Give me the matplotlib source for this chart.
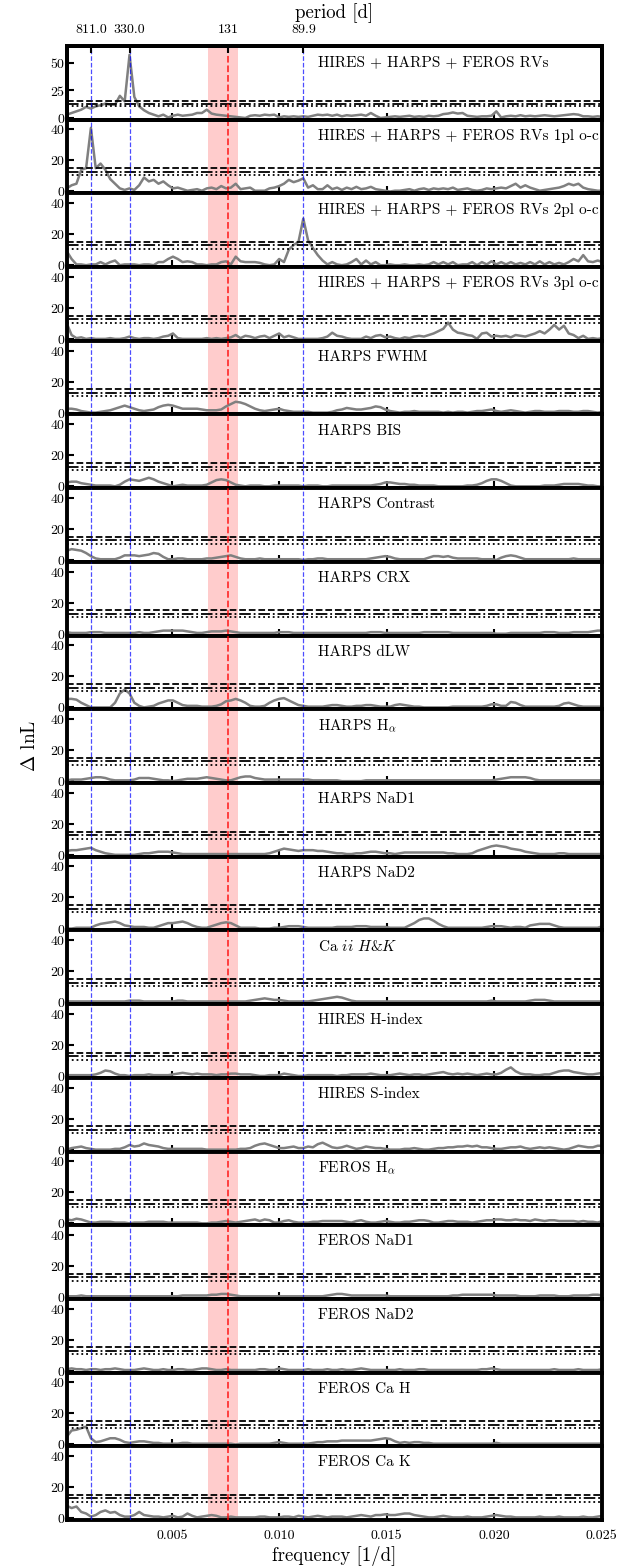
import numpy as np
import matplotlib
matplotlib.use("Agg")
import matplotlib.pyplot as plt

plt.rcParams["font.family"] = "serif"
plt.rcParams["font.serif"] = ["cmr10"]
plt.rcParams["mathtext.fontset"] = "cm"
plt.rcParams["axes.formatter.use_mathtext"] = True
plt.rcParams["axes.unicode_minus"] = False

# frequency grid of the periodograms [1/d]
freq = 0.00011 + 0.0002246 * np.arange(112)

names = ["HIRES + HARPS + FEROS RVs",
         "HIRES + HARPS + FEROS RVs 1pl o-c",
         "HIRES + HARPS + FEROS RVs 2pl o-c",
         "HIRES + HARPS + FEROS RVs 3pl o-c",
         "HARPS FWHM", "HARPS BIS", "HARPS Contrast", "HARPS CRX", "HARPS dLW",
         r"HARPS H$_\alpha$", "HARPS NaD1", "HARPS NaD2", r"Ca $ii$ $H$&$K$",
         "HIRES H-index", "HIRES S-index", r"FEROS H$_\alpha$",
         "FEROS NaD1", "FEROS NaD2", "FEROS Ca H", "FEROS Ca K"]

rv_all = [3, 4.5, 6, 7.5, 10, 8.5, 10.5, 11.5, 13, 12, 12, 20, 15, 57, 19, 10.5,
          7, 4.5, 3, 1.5, 3, 0.5, 2, 3, 2, 2.5, 3, 4.5, 4.5, 7.5, 4, 3,
          2.5, 2, 1.5, 1, 0.5, 0, 2, 2.5, 2, 3, 2.5, 3, 0.5, 1.5, 1, 1.5,
          1, 1.5, 1, 2, 3, 2.5, 3, 2, 3, 1.5, 2.5, 2, 2.5, 3, 2, 4.5,
          2, 0, 0.5, 1, 1.5, 1, 1.5, 2, 1, 1.5, 1, 2, 1.5, 2, 3.5, 4,
          5, 4, 4.5, 2, 1.5, 1, 1.5, 1.5, 2, 6, 0.5, 1.5, 2, 1.5, 2.5, 1.5,
          2, 1.5, 2, 2.5, 2, 1.5, 2, 2.5, 3, 3.5, 3, 1.5, 1.5, 1, 1.5, 1]
rv_1pl = [2, 4, 5, 14, 15, 41, 15, 18, 14, 8, 5, 2, 1, 2, 1, 4,
          9, 6.5, 7.5, 5, 6.5, 4, 2, 2.5, 1.5, 0.5, 1, 1.5, 0.5, 2, 2.5, 1.5,
          3.5, 2, 2.5, 5, 1.5, 2, 2.5, 0.5, 0.5, 0.5, 2, 2.5, 3.5, 5, 7.5, 6,
          7, 8.5, 2.5, 4, 1.5, 1.5, 4, 1.5, 2.5, 1, 2.5, 1.5, 3, 1.5, 2, 3,
          1.5, 1, 0.5, 0, 0.5, 0.5, 1, 1.5, 0.5, 1.5, 2, 1, 2, 1.5, 2, 1.5,
          2.5, 1, 1.5, 2, 1, 0.5, 1, 2, 1.5, 2, 2.5, 2, 3.5, 5, 2.5, 4,
          2.5, 1.5, 0.5, 1, 1.5, 2, 2.5, 3.5, 5, 4, 5, 2.5, 1.5, 1, 0.5, 0.5]
rv_2pl = [9, 4, 0.5, 0.5, 0, 0.5, 0.5, 2, 0.5, 2, 3, 0, 0.5, 0.5, 0.5, 0,
          0.5, 0.5, 0, 2, 2, 4, 5.5, 4, 2, 2.5, 2, 0.5, 0.5, 0, 0.5, 0.5,
          2, 2.5, 0.5, 5.5, 2.5, 2, 2, 2, 1.5, 0.5, 0, 0.5, 4, 2, 10, 13,
          15, 30, 16, 11, 6.5, 3, 0.5, 2, 0.5, 0, 0.5, 2, 4, 0.5, 3, 0.5,
          2, 0, 0, 0.5, 0, 0, 0.5, 0, 0, 0.5, 0, 0.5, 2, 0.5, 2, 0.5,
          2, 0, 0.5, 0.5, 2, 0, 2, 0.5, 2.5, 0.5, 2, 0.5, 2, 0.5, 1.5, 0.5,
          2, 0.5, 2.5, 0.5, 2, 0.5, 1.5, 0.5, 2, 4, 2.5, 6.5, 2.5, 2, 3, 2]
rv_3pl = [10, 2.5, 0.5, 1, 0, 0.5, 0, 0, 0, 0.5, 0, 0, 0.5, 1.5, 0.5, 0,
          0.5, 0.5, 0, 0.5, 1.5, 2, 3.5, 0.5, 0, 0, 0, 0, 0, 0.5, 0, 0.5,
          0, 0.5, 1, 2.5, 0.5, 2, 1.5, 0.5, 1.5, 2, 0.5, 2, 3.5, 1, 2, 1,
          0, 0, 0, 0, 0, 0.5, 1.5, 4, 2, 1.5, 0.5, 0, 0, 0, 1.5, 0.5,
          2, 2.5, 1, 1.5, 0.5, 0, 1, 0.5, 1.5, 2, 1.5, 2.5, 3.5, 5, 6.5, 10.5,
          6, 4, 3.5, 2.5, 2, 0, 3.5, 4, 1.5, 2, 1.5, 2, 1, 2.5, 2, 1.5,
          2.5, 3.5, 5, 3.5, 6, 9, 6, 8.5, 3.5, 2.5, 0.5, 2, 0, 0.5, 0, 0.5]
harps_fwhm = [2.5, 2.5, 2, 1, 0.5, 0, 0, 0.5, 1, 1.5, 2.5, 3.5, 4.5, 3.5, 2.5, 1.5,
              1, 1.5, 2, 3.5, 4.5, 5, 4.5, 3.5, 2.5, 2.5, 2.5, 2.5, 2, 1.5, 1.5, 1.5,
              2, 4, 5.5, 7, 6.5, 5.5, 4, 2.5, 1.5, 1, 1.5, 2, 2.5, 1.5, 1, 0.5,
              0.5, 0.5, 0.5, 0, 0, 0, 0, 0.5, 1.5, 2, 3, 2.5, 2, 2, 2.5, 3,
              4, 3.5, 2, 1, 0.5, 0, 0.5, 0.5, 1, 0.5, 0.5, 0.5, 0.5, 0.5, 0, 0.5,
              0, 0.5, 0.5, 0, 0.5, 1, 1, 1.5, 2, 1, 0.5, 1, 1.5, 1, 0.5, 0,
              0.5, 1, 1, 0.5, 0.5, 0.5, 1, 1, 1, 0.5, 0.5, 1, 1, 0.5, 0, 0.5]
harps_bis = [2.5, 3, 3, 2, 1.5, 1, 0.5, 0.5, 0.5, 0.5, 0, 1, 3, 4.5, 4, 3.5,
             4.5, 5.5, 4.5, 3, 2, 1, 0, 0.5, 1, 0.5, 0.5, 0.5, 0.5, 1, 2.5, 4,
             4.5, 4, 2.5, 1, 0.5, 0, 0.5, 0.5, 0.5, 0, 0, 0.5, 0.5, 0.5, 0.5, 0.5,
             0.5, 0, 0.5, 0.5, 0.5, 0, 0, 0.5, 0.5, 0.5, 0.5, 0.5, 0.5, 0.5, 0.5, 0.5,
             1, 1.5, 2.5, 2.5, 2, 1.5, 1.5, 1, 1, 0.5, 0.5, 0.5, 0.5, 0, 0, 0,
             0, 0, 0, 0.5, 0.5, 1, 2, 3.5, 4.5, 4.5, 3.5, 2, 0.5, 0, 0, 0,
             0, 0, 0, 0.5, 0.5, 0.5, 1, 1.5, 1.5, 1.5, 1.5, 1, 0.5, 0.5, 0, 0]
harps_contrast = [6, 7, 6.5, 6, 4.5, 2.5, 1, 0.5, 0.5, 0.5, 0.5, 1.5, 3, 3, 3, 2.5,
                  3, 3.5, 4.5, 4, 2, 0.5, 0.5, 1, 1, 0.5, 0.5, 0.5, 0.5, 1, 1, 1.5,
                  2, 2.5, 3, 2, 1, 0.5, 0.5, 0.5, 1, 0.5, 0.5, 0.5, 0.5, 0.5, 0.5, 0.5,
                  0.5, 0, 0.5, 0.5, 1, 1, 0.5, 0.5, 0.5, 0.5, 0.5, 0.5, 0.5, 0.5, 0.5, 1,
                  1.5, 2, 2.5, 2, 1, 0.5, 0.5, 0.5, 0.5, 0.5, 0.5, 1.5, 2.5, 2.5, 2, 2.5,
                  1.5, 1, 1, 1, 1, 1, 0.5, 0.5, 0.5, 0, 1.5, 2.5, 3, 2.5, 1.5, 0.5,
                  0.5, 0.5, 0.5, 0.5, 0.5, 0.5, 0.5, 0.5, 0.5, 1, 0.5, 0.5, 0.5, 0.5, 0.5, 0.5]
harps_crx = [1, 0.5, 0.5, 0.5, 0.5, 1, 1, 1, 0.5, 0.5, 0.5, 0.5, 0.5, 0.5, 0.5, 1,
             0.5, 0.5, 1, 1.5, 2, 2, 2, 2, 2, 1.5, 1, 0.5, 0.5, 1, 1.5, 1.5,
             1.5, 2, 1.5, 1, 0.5, 0.5, 0.5, 0.5, 0.5, 0.5, 0.5, 0.5, 1, 1, 1, 0.5,
             0.5, 0.5, 0.5, 0.5, 0.5, 0.5, 0.5, 0.5, 0.5, 0.5, 0.5, 0.5, 0.5, 0.5, 0.5, 1,
             1, 1, 0.5, 0.5, 0.5, 0.5, 0.5, 0.5, 0.5, 0.5, 1, 1, 1, 1, 1, 1,
             0.5, 0.5, 0.5, 0.5, 0.5, 0.5, 0.5, 0.5, 0.5, 0, 0, 0, 0.5, 0.5, 0.5, 0.5,
             0.5, 0.5, 0.5, 1, 1, 1, 0.5, 0.5, 0.5, 1, 1, 1, 1, 1.5, 2, 2]
harps_dlw = [5.5, 5.5, 5, 3, 1.5, 0, 0, 0, 0, 0, 3, 9, 11.5, 9, 3, 1,
             0, 0.5, 1, 2.5, 3.5, 4.5, 4.5, 3, 1.5, 1, 1, 1, 0.5, 0.5, 0.5, 1,
             2, 4, 4.5, 5.5, 4.5, 3, 1, 0.5, 0.5, 1, 3, 4.5, 5.5, 6, 4.5, 3,
             1.5, 1, 0.5, 0.5, 0.5, 0.5, 1, 1.5, 1.5, 1, 0.5, 0.5, 1, 1, 1.5, 1.5,
             1, 0.5, 0.5, 0.5, 1.5, 2, 1.5, 1, 0.5, 0.5, 0, 0, 0, 0, 0, 0,
             0.5, 0.5, 0.5, 0.5, 0.5, 0.5, 0.5, 1, 2, 2, 1, 1, 3.5, 3, 1.5, 0.5,
             0.5, 0.5, 0.5, 0.5, 0.5, 0.5, 1, 2.5, 3, 2, 1, 0.5, 0.5, 0.5, 0.5, 0.5]
harps_halpha = [0.5, 1, 1, 1, 1.5, 2, 2.5, 2.5, 2, 1, 0.5, 0.5, 0.5, 0.5, 1, 2,
                2, 2, 1.5, 1, 0.5, 0.5, 0, 0.5, 1, 1.5, 1.5, 1.5, 2, 2.5, 2, 1.5,
                1, 0.5, 0.5, 1.5, 2.5, 3, 3, 2, 1.5, 1, 1, 1, 1, 1, 1, 1,
                1, 1, 1, 0.5, 0.5, 0.5, 0.5, 0.5, 0.5, 0, 0, 0, 0, 0, 0.5, 0.5,
                0.5, 0.5, 0.5, 0.5, 0.5, 0.5, 0.5, 0.5, 0.5, 0.5, 0.5, 0.5, 0.5, 0.5, 0.5, 0.5,
                0.5, 0.5, 0.5, 0.5, 0.5, 0.5, 0.5, 0.5, 0.5, 1, 1.5, 2, 2.5, 2.5, 2.5, 2.5,
                2, 1, 0.5, 0.5, 0.5, 0.5, 0.5, 0.5, 0.5, 0.5, 0.5, 0.5, 0.5, 0.5, 0.5, 0.5]
harps_nad1 = [2.5, 3, 3, 3.5, 4, 4.5, 3, 2, 1, 0.5, 0, 0, 0, 0, 0, 0.5,
              1, 1, 1.5, 2, 2, 2, 1.5, 1, 0.5, 0.5, 0.5, 0.5, 0.5, 0.5, 0.5, 0.5,
              0.5, 0.5, 0.5, 0.5, 0.5, 0.5, 0.5, 0.5, 0.5, 0.5, 1, 2, 3, 4, 3.5, 3,
              2.5, 3, 3, 3, 2.5, 2.5, 2, 1.5, 1, 1, 0.5, 0.5, 1, 1, 1.5, 2,
              2, 1.5, 1, 1, 0.5, 1, 1.5, 1.5, 1.5, 1.5, 1.5, 1.5, 1.5, 1.5, 1.5, 1,
              1, 0.5, 0.5, 0.5, 1, 2.5, 3.5, 4.5, 5.5, 6, 5.5, 5, 4, 3.5, 3, 2,
              1.5, 1, 0.5, 0.5, 0.5, 0.5, 1, 1, 0.5, 0.5, 0.5, 0.5, 0.5, 0.5, 0.5, 0.5]
harps_nad2 = [0, 0, 0.5, 0.5, 0.5, 0.5, 2, 3, 3.5, 4, 4.5, 3.5, 2, 1.5, 1, 1,
              1, 0.5, 0.5, 1.5, 2.5, 3.5, 3.5, 4, 4.5, 3.5, 2, 1, 0.5, 0.5, 1.5, 2.5,
              3.5, 4, 3.5, 2, 0.5, 0.5, 0.5, 0.5, 0, 0, 0, 0.5, 0.5, 1, 1.5, 1.5,
              1.5, 1, 0.5, 0.5, 0.5, 0.5, 0.5, 0.5, 1, 1, 1, 1, 1.5, 1.5, 1.5, 1,
              1, 1, 1, 0.5, 0.5, 0.5, 0.5, 2, 3.5, 5.5, 6.5, 6.5, 5, 3, 1.5, 0.5,
              0.5, 0.5, 0.5, 0.5, 0.5, 0.5, 0.5, 1, 1.5, 1.5, 1.5, 1, 0.5, 1, 1, 0.5,
              2, 2.5, 3, 3, 3, 2, 1, 0.5, 0.5, 0.5, 0.5, 0.5, 0.5, 0.5, 0.5, 1.5]
ca_hk = [0.5, 0.5, 0.5, 0.5, 0.5, 0.5, 0.5, 0.5, 0.5, 0.5, 0.5, 0.5, 0.5, 1, 1, 1,
         0.5, 0.5, 0.5, 0.5, 0.5, 0.5, 0.5, 1, 1, 0.5, 0.5, 0.5, 0.5, 0.5, 0.5, 0.5,
         0.5, 0.5, 0.5, 0.5, 0.5, 0.5, 1, 1.5, 2, 2.5, 2, 1.5, 1.5, 1, 0.5, 0.5,
         0.5, 0.5, 0.5, 1, 1.5, 2, 2.5, 3, 3.5, 3, 2, 1, 0.5, 0.5, 0.5, 0.5,
         0.5, 0.5, 0.5, 0.5, 0.5, 0.5, 0.5, 0.5, 0.5, 0.5, 0.5, 0.5, 0.5, 0.5, 0.5, 0.5,
         0.5, 0.5, 0.5, 0.5, 0.5, 0.5, 0.5, 0.5, 1, 0.5, 0.5, 0.5, 0.5, 0.5, 0.5, 0.5,
         1, 1.5, 1.5, 1.5, 1, 0.5, 0.5, 0.5, 0.5, 0.5, 0.5, 0.5, 0.5, 0.5, 0.5, 0.5]
hires_h = [0.5, 0.5, 0.5, 0.5, 0.5, 0.5, 1, 2, 3.5, 3, 1.5, 0.5, 0.5, 0, 0.5, 0.5,
           0.5, 1, 0.5, 0.5, 0.5, 0.5, 1, 1.5, 2, 1.5, 1, 1.5, 1, 1, 1, 0.5,
           1, 1, 1.5, 1.5, 1, 1, 1, 0.5, 0, 0, 0.5, 0.5, 0.5, 1.5, 1, 0.5,
           0, 0, 0.5, 0.5, 0.5, 0.5, 0.5, 0.5, 0, 0.5, 0.5, 1, 1, 1, 1, 1.5,
           1, 0.5, 0.5, 0.5, 1, 1.5, 1, 0.5, 1, 1, 0.5, 1, 1.5, 2, 2.5, 1.5,
           1, 1.5, 1, 1.5, 1, 0.5, 1, 1.5, 1, 1, 2, 4, 5.5, 3, 1.5, 1,
           1, 0.5, 0.5, 1, 1, 2, 3, 3.5, 3.5, 2.5, 2, 1.5, 1, 1, 1.5, 2]
hires_s = [0, 1, 1.5, 2, 1, 0.5, 0, 0, 0, 0, 0.5, 0.5, 1.5, 3, 2, 2.5,
           4, 3, 2.5, 2, 1, 0.5, 0.5, 0.5, 0.5, 0.5, 0.5, 0.5, 0.5, 0, 0, 0,
           0, 0, 0, 0, 0.5, 0.5, 1, 2.5, 3.5, 4, 3, 2, 1, 1, 1.5, 2,
           1, 1, 2, 1.5, 3.5, 4.5, 3, 1.5, 1, 1.5, 2.5, 1.5, 0.5, 1, 2, 1.5,
           1, 1, 0.5, 0, 0, 0, 0.5, 0.5, 1, 0.5, 0, 0, 0.5, 1, 1, 1.5,
           1.5, 2, 2, 2.5, 2, 2.5, 1.5, 1.5, 1, 0.5, 0.5, 1, 1.5, 1.5, 2, 1,
           0.5, 1, 1.5, 1, 1.5, 1, 0.5, 0, 0.5, 1.5, 2.5, 2, 1.5, 1.5, 2.5, 2.5]
feros_halpha = [2.5, 2, 3, 2.5, 1.5, 0.5, 0.5, 1, 1, 1, 0.5, 0.5, 0.5, 0, 0.5, 0.5,
                0.5, 1, 1, 1, 1, 0.5, 0.5, 0.5, 0.5, 0.5, 0.5, 0.5, 0, 0, 0.5, 0.5,
                1, 1.5, 1, 0.5, 1, 1.5, 2, 2.5, 1.5, 2.5, 2, 0.5, 0.5, 1.5, 2, 1,
                0.5, 0.5, 0.5, 1, 1, 1.5, 1.5, 1.5, 1.5, 1.5, 1, 0.5, 1.5, 2, 1, 0.5,
                0.5, 1, 1.5, 1, 0.5, 0.5, 1, 1, 1.5, 2, 2, 1.5, 0.5, 0.5, 1, 1.5,
                1.5, 1, 1, 1, 0.5, 1, 1.5, 2, 2, 2.5, 2.5, 2, 2, 2.5, 2, 2,
                1.5, 2.5, 2, 1.5, 2, 2, 1.5, 1.5, 1.5, 1.5, 1, 1.5, 1, 1, 0.5, 1.5]
feros_nad1 = [0.5, 0.5, 0.5, 1, 0.5, 0.5, 0.5, 0.5, 0.5, 0.5, 0.5, 0.5, 0.5, 0.5, 0.5, 0.5,
              0.5, 0.5, 0.5, 0.5, 0.5, 0.5, 0.5, 0.5, 1, 1, 1, 1, 1, 1, 1.5, 1.5,
              2, 2, 1.5, 1, 0.5, 0.5, 0.5, 0.5, 0.5, 0.5, 0.5, 0.5, 0.5, 0.5, 0.5, 0.5,
              0.5, 0.5, 0.5, 0.5, 0.5, 0.5, 1, 1.5, 2, 2, 1.5, 1, 1, 1, 1, 1,
              1, 1, 1, 0.5, 0.5, 0.5, 0.5, 0.5, 0.5, 0.5, 0.5, 0.5, 0.5, 0.5, 0.5, 0.5,
              1, 1, 1.5, 1.5, 1.5, 1.5, 1.5, 1.5, 1.5, 1, 1, 1, 1, 1, 0.5, 0.5,
              0.5, 0.5, 1, 1, 1, 1, 0.5, 0.5, 0.5, 1, 1, 1, 1, 1.5, 1.5, 1]
feros_nad2 = [1, 1.5, 1, 1, 0.5, 1, 1, 0.5, 1, 1, 1.5, 1, 0.5, 0.5, 0.5, 1,
              1.5, 1, 0.5, 0.5, 1, 0.5, 0.5, 1, 1, 0.5, 0.5, 1, 1.5, 1.5, 1, 0.5,
              0.5, 1, 0.5, 0.5, 0.5, 0.5, 0.5, 0.5, 1, 1, 0.5, 0.5, 1.5, 1, 0.5, 0.5,
              0.5, 0.5, 1, 0.5, 0.5, 0.5, 1, 0.5, 0.5, 1, 0.5, 0.5, 1, 1.5, 1, 0.5,
              0.5, 0.5, 0.5, 0.5, 0.5, 1, 0.5, 0.5, 0.5, 1, 1, 0.5, 0.5, 0.5, 0.5, 0.5,
              0.5, 0.5, 0.5, 0.5, 0.5, 0.5, 1, 1, 1.5, 1, 0.5, 0.5, 0.5, 0.5, 0.5, 0.5,
              0.5, 0.5, 0.5, 0.5, 0.5, 1, 0.5, 0.5, 0.5, 0.5, 1, 0.5, 0.5, 0.5, 0.5, 1]
feros_cah = [5, 9, 9.5, 10.5, 11.5, 4, 1.5, 2, 3, 4, 4, 3, 1.5, 1, 1.5, 2,
             2, 1.5, 1, 1, 0.5, 0.5, 0.5, 0.5, 1, 1, 0.5, 0.5, 0.5, 0.5, 0.5, 0.5,
             0.5, 0.5, 0.5, 0, 0.5, 0.5, 0.5, 0.5, 0.5, 0.5, 0.5, 1, 1.5, 1, 0.5, 0.5,
             0.5, 0.5, 0.5, 1, 1.5, 1.5, 2, 2, 2, 2.5, 2.5, 2.5, 2.5, 2.5, 2.5, 2.5,
             3, 3.5, 4, 3.5, 2, 1, 1.5, 1, 1.5, 1.5, 1, 1, 0.5, 0.5, 0.5, 0.5,
             0.5, 0.5, 0.5, 0.5, 0.5, 0.5, 0.5, 0.5, 0.5, 1, 0.5, 0.5, 0.5, 0.5, 0.5, 0.5,
             0.5, 0.5, 0.5, 0.5, 0.5, 0.5, 0.5, 0.5, 0.5, 0.5, 0.5, 0.5, 0.5, 0.5, 0.5, 0.5]
feros_cak = [8, 6.5, 7.5, 4, 3, 1, 2, 4, 5, 3.5, 4, 2, 1, 1, 2, 4,
             2, 1.5, 1, 1, 0.5, 1, 1.5, 0.5, 1, 3, 1.5, 0.5, 1, 1.5, 2, 1.5,
             0.5, 0.5, 1, 0.5, 0.5, 0.5, 0.5, 0.5, 1, 1, 0.5, 0.5, 0.5, 1, 1, 0.5,
             1.5, 1, 0.5, 1, 1.5, 1, 0.5, 1, 1, 1, 0.5, 1, 1.5, 2, 1.5, 1,
             2, 2, 2.5, 2, 2, 2.5, 3, 3, 2, 1.5, 1, 0.5, 0.5, 1, 1.5, 1,
             0.5, 0.5, 0.5, 1, 0.5, 0.5, 0.5, 1, 1.5, 2, 1.5, 1, 1, 0.5, 0.5, 0.5,
             0.5, 0.5, 1, 0.5, 0.5, 0.5, 1, 0.5, 0.5, 0.5, 0.5, 1, 0.5, 0.5, 1, 1.5]

power = [rv_all, rv_1pl, rv_2pl, rv_3pl, harps_fwhm, harps_bis, harps_contrast,
         harps_crx, harps_dlw, harps_halpha, harps_nad1, harps_nad2, ca_hk,
         hires_h, hires_s, feros_halpha, feros_nad1, feros_nad2, feros_cah, feros_cak]

# FAP levels (dlnL) and known periods
fap_levels = [15.0, 12.7, 10.5]
fap_styles = ["--", "-.", ":"]
planet_periods = [811.0, 330.0, 89.9]
rot_period = 131.0
rot_band = (0.0067, 0.0081)
top_periods = [811.0, 330.0, 131.0, 89.9]
top_labels = ["811.0", "330.0", "131", "89.9"]
xticks = [0.005, 0.010, 0.015, 0.020, 0.025]
xticklabels = ["0.005", "0.010", "0.015", "0.020", "0.025"]

fig, axes = plt.subplots(len(power), 1, sharex=True, figsize=(6.36, 15.68), dpi=100)
fig.subplots_adjust(left=0.106, right=0.946, top=0.9707, bottom=0.0306, hspace=0)

for i, (ax, name, dlnl) in enumerate(zip(axes, names, power)):
    x = freq[:len(dlnl)]
    ax.axvspan(rot_band[0], rot_band[1], color="red", alpha=0.2, lw=0, zorder=0)
    ax.plot(x, dlnl, color="0.5", lw=1.8, zorder=2)
    for lev, ls in zip(fap_levels, fap_styles):
        ax.axhline(lev, color="k", ls=ls, lw=1.3, zorder=3)
    for p in planet_periods:
        ax.axvline(1.0 / p, color="b", ls="--", lw=0.9, alpha=0.7, zorder=4)
    ax.axvline(1.0 / rot_period, color="r", ls="--", lw=1.3, alpha=0.75, zorder=4)
    ax.text(0.469, 0.78, name, transform=ax.transAxes, fontsize=11, va="center")

    if i == 0:
        ax.set_ylim(-1.5, 65)
        ax.set_yticks([0, 25, 50])
    else:
        ax.set_ylim(-1.2, 46.3)
        ax.set_yticks([0, 20, 40])
    ax.set_xlim(0.00014, 0.025)
    ax.tick_params(axis="both", direction="in", length=5, width=1.5, labelsize=10)
    ax.tick_params(axis="x", pad=7)
    ax.tick_params(axis="y", pad=1.5)
    for s in ax.spines.values():
        s.set_linewidth(2.8)

axes[-1].set_xticks(xticks)
axes[-1].set_xticklabels(xticklabels)

top = axes[0].twiny()
top.set_xlim(axes[0].get_xlim())
top.set_xticks([1.0 / p for p in top_periods])
top.set_xticklabels(top_labels)
top.tick_params(axis="x", direction="in", length=5, width=1.5, labelsize=10, pad=7)
for s in top.spines.values():
    s.set_linewidth(2.8)

fig.text(0.525, 0.9917, "period [d]", ha="center", va="center", fontsize=13.5)
fig.text(0.525, 0.0077, "frequency [1/d]", ha="center", va="center", fontsize=13.5)
fig.text(0.047, 0.524, r"$\Delta$ lnL", ha="center", va="center", rotation=90, fontsize=14)

fig.savefig("out.png", dpi=100)
